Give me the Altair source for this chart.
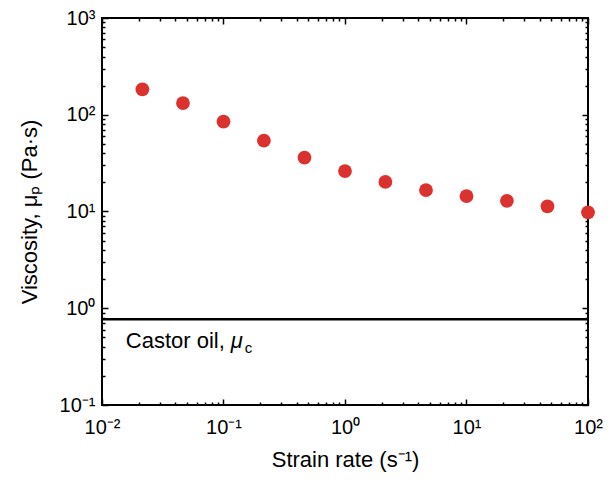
import altair as alt
import pandas as pd

# ---- data ----
strain_rate = [0.0215, 0.0464, 0.1, 0.215, 0.464, 1.0, 2.15, 4.64, 10.0, 21.5, 46.4, 100.0]
viscosity = [183, 132, 85, 54, 36, 26.2, 20.2, 16.6, 14.4, 12.9, 11.3, 9.8]
castor_oil = [0.77]

x_major = [0.01, 0.1, 1, 10, 100]
x_major_labels = ["10⁻²", "10⁻¹", "10⁰", "10¹", "10²"]
y_major = [0.1, 1, 10, 100, 1000]
y_major_labels = ["10⁻¹", "10⁰", "10¹", "10²", "10³"]
x_minor = [m * 10 ** k for k in range(-2, 2) for m in range(2, 10)]
y_minor = [m * 10 ** k for k in range(-1, 3) for m in range(2, 10)]

note_x = [0.0157]
note_y = [0.39]

FONT = "Liberation Sans"
RED = "#DC322F"


def label_expr(values, labels):
    expr = "''"
    for v, lab in reversed(list(zip(values, labels))):
        expr = f"datum.value < {v * 1.5} ? '{lab}' : ({expr})"
    return expr


df = pd.DataFrame({"rate": strain_rate, "visc": viscosity})
xs = alt.Scale(type="log", domain=[0.01, 100], nice=False)
ys = alt.Scale(type="log", domain=[0.1, 1000], nice=False)

MAJ = 6
MIN = 3


def ax(orient, values, size, labels=False, title=None, lab=None, **kw):
    args = dict(orient=orient, values=values, tickSize=size, offset=-size,
                domain=False, grid=False, tickColor="black", tickWidth=1.5,
                labels=labels, labelFlush=False, labelOverlap=False)
    args["title"] = title
    if lab is not None:
        args["labelExpr"] = lab
    args.update(kw)
    return alt.Axis(**args)


points = alt.Chart(df).mark_circle(size=190, color=RED, opacity=1).encode(
    x=alt.X("rate:Q", scale=xs,
            axis=ax("bottom", x_major, MAJ, labels=True, title="Strain rate (s⁻¹)",
                    lab=label_expr(x_major, x_major_labels),
                    labelFont=FONT, labelFontSize=20, labelColor="black",
                    labelPadding=12, titleFont=FONT, titleFontSize=22,
                    titleFontWeight="normal", titleColor="black", titlePadding=12)),
    y=alt.Y("visc:Q", scale=ys,
            axis=ax("left", y_major, MAJ, labels=True, title="Viscosity, μₚ (Pa·s)",
                    lab=label_expr(y_major, y_major_labels),
                    labelFont=FONT, labelFontSize=20, labelColor="black",
                    labelPadding=7, labelBaseline="middle", titleFont=FONT,
                    titleFontSize=22, titleFontWeight="normal", titleColor="black",
                    titlePadding=18)),
)


def hidden(xaxis, yaxis):
    return alt.Chart(df).mark_point(opacity=0).encode(
        x=alt.X("rate:Q", scale=xs, axis=xaxis),
        y=alt.Y("visc:Q", scale=ys, axis=yaxis),
    )


h1 = hidden(ax("bottom", x_minor, MIN), ax("left", y_minor, MIN))
h2 = hidden(ax("top", x_major, MAJ), ax("right", y_major, MAJ))
h3 = hidden(ax("top", x_minor, MIN), ax("right", y_minor, MIN))

rule = alt.Chart(pd.DataFrame({"v": castor_oil})).mark_rule(
    color="black", strokeWidth=2.5
).encode(y=alt.Y("v:Q", scale=ys, axis=None))

note_df = pd.DataFrame({"x": note_x, "y": note_y})
base_note = alt.Chart(note_df).encode(
    x=alt.X("x:Q", scale=xs, axis=None), y=alt.Y("y:Q", scale=ys, axis=None)
)
t1 = base_note.mark_text(text="Castor oil, ", align="left", baseline="alphabetic",
                         font=FONT, fontSize=22, color="black")
t2 = base_note.mark_text(text="μ", align="left", baseline="alphabetic", dx=105,
                         font=FONT, fontSize=22, fontStyle="italic", color="black")
t3 = base_note.mark_text(text="c", align="left", baseline="alphabetic", dx=119, dy=5,
                         font=FONT, fontSize=15, color="black")

chart = alt.layer(points, h1, h2, h3, rule, t1, t2, t3).resolve_axis(
    x="independent", y="independent"
).properties(
    width=486, height=387,
    autosize=alt.AutoSizeParams(type="none"),
    padding={"left": 94, "top": 10, "right": 15, "bottom": 72},
).configure_view(stroke="black", strokeWidth=2)

chart.save("out.html", embed_options={"renderer": "svg", "actions": False})
